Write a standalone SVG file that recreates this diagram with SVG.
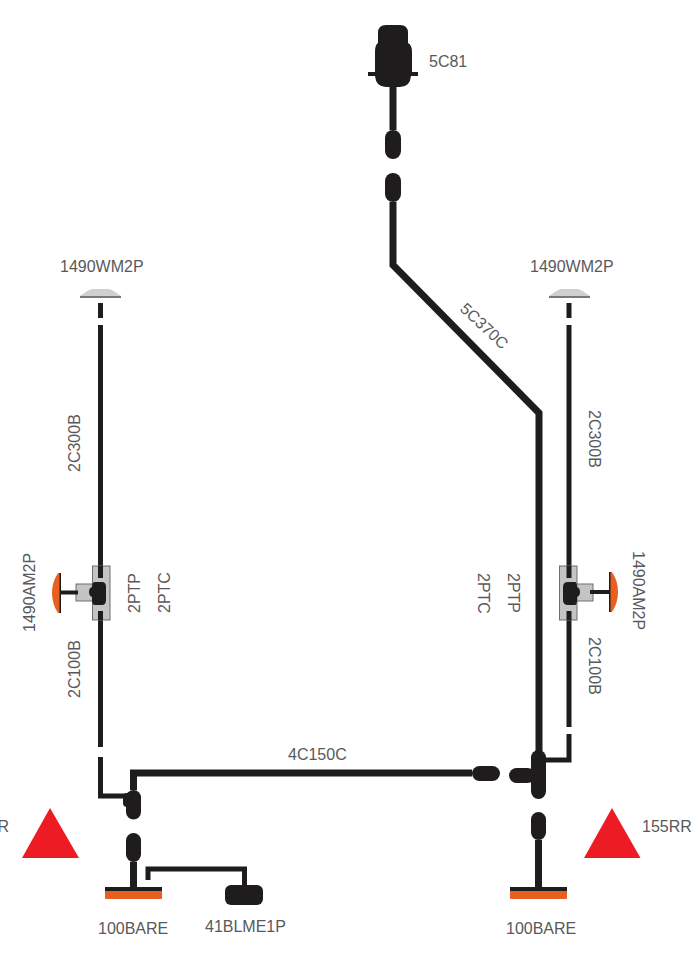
<svg xmlns="http://www.w3.org/2000/svg" width="700" height="955" viewBox="0 0 700 955">
<style>
text{font-family:"Liberation Sans",Arial,sans-serif;font-size:16px;fill:#58595b}
.w{fill:none;stroke:#1f1c1d;stroke-width:5}
.m{fill:none;stroke:#1f1c1d;stroke-width:7}
.b{fill:#1f1c1d}
.g{fill:#c4c4c4;stroke:#6d6e71;stroke-width:1}
.o{fill:#e8601f}
.r{fill:#ed1c24}
.c{fill:#d0d0d0}
</style>
<rect width="700" height="955" fill="#fff"/>
<g id="connectors">
<path class="m" d="M393 87V130M393 202V265L539 413V760"/>
<path class="m" d="M133.500 790V773H472"/>
<path class="m" d="M133.500 862V888M538.500 840V888"/>
<path class="w" d="M100.500 303V318M100.500 325V578M100.500 611V747M100.500 757V796H128"/>
<path class="w" d="M569 303V318M569 325V578M569 611V727M569 734V760H545"/>
<path class="w" d="M148 880V869H244.500V886"/>
</g>
<g id="node-5c81">
<path class="b" d="M378 33Q378 25 386 25H400Q408 25 408 33V43Q412 45 412 52V72H418V76H411Q410 87 400 87H386Q376 87 375 76H368V72H375V52Q375 45 378 43Z"/>
<rect class="b" x="385" y="130" width="16" height="29" rx="8"/>
<rect class="b" x="385" y="173" width="16" height="29" rx="8"/>
<text x="429" y="67">5C81</text>
</g>
<g id="node-cap-left">
<path class="c" d="M80 296Q88 290 92 289H109Q113 290 121 296Z"/><rect x="80" y="296" width="41" height="2" fill="#77787b"/>
<text x="60" y="272">1490WM2P</text>
</g>
<g id="node-cap-right">
<path class="c" d="M549 296Q557 290 561 289H578Q582 290 590 296Z"/><rect x="549" y="296" width="41" height="2" fill="#77787b"/>
<text x="530" y="272">1490WM2P</text>
</g>
<g id="node-lamp-left">
<rect class="g" x="92.500" y="566" width="17.500" height="54"/>
<rect class="g" x="76" y="584" width="16.500" height="17"/>
<path class="w" style="stroke-width:4" d="M61 592.500H78"/>
<path class="w" d="M100.500 566V578M100.500 611V620"/>
<path class="b" d="M95 582H102Q106 582 106 587V600Q106 605 102 605H95Q92 605 92 600V597Q89 596 89 592Q89 588 92 587Q92 582 95 582Z"/>
<path class="o" d="M61 573V613H58Q52 604 52 593Q52 582 58 573Z"/>
<rect class="b" x="59.500" y="573" width="1.500" height="40"/>
<text transform="translate(35 632) rotate(-90)">1490AM2P</text>
<text transform="translate(140 613) rotate(-90)">2PTP</text>
<text transform="translate(170 613) rotate(-90)">2PTC</text>
</g>
<g id="node-lamp-right">
<rect class="g" x="559.500" y="566" width="17.500" height="54"/>
<rect class="g" x="577" y="584" width="16" height="17"/>
<path class="w" style="stroke-width:4" d="M590 592H609"/>
<path class="w" d="M569 566V578M569 611V620"/>
<path class="b" d="M575 582H568Q563 582 563 587V600Q563 605 568 605H575Q577 605 577 600V597Q580 596 580 592Q580 588 577 587Q577 582 575 582Z"/>
<path class="o" d="M609 572V612H612Q618 603 618 592Q618 581 612 572Z"/>
<rect class="b" x="609" y="572" width="1.500" height="40"/>
<text transform="translate(633 551) rotate(90)">1490AM2P</text>
<text transform="translate(508 573) rotate(90)">2PTP</text>
<text transform="translate(478 573) rotate(90)">2PTC</text>
</g>
<g id="node-junction-left">
<rect class="b" x="126" y="790" width="15" height="29.500" rx="7.500"/>
<rect class="b" x="123" y="793" width="10" height="14" rx="4"/>
<rect class="b" x="126" y="833" width="15" height="29" rx="7.500"/>
</g>
<g id="node-junction-right">
<rect class="b" x="531" y="750" width="15" height="49" rx="7.500"/>
<rect class="b" x="509" y="768" width="26" height="15" rx="7.500"/>
<rect class="b" x="472" y="766" width="28" height="15" rx="7.500"/>
<rect class="b" x="531" y="812" width="15" height="28" rx="7.500"/>
</g>
<g id="node-bare-left">
<rect class="o" x="105" y="888" width="57" height="11" rx="1"/><rect class="b" x="105" y="887" width="57" height="4"/>
<text x="98" y="934">100BARE</text>
</g>
<g id="node-bare-right">
<rect class="o" x="510" y="888" width="57" height="11" rx="1"/><rect class="b" x="510" y="887" width="57" height="4"/>
<text x="506" y="934">100BARE</text>
</g>
<g id="node-41blme1p">
<rect class="b" x="225" y="885" width="38" height="20" rx="6"/>
<text x="205" y="932">41BLME1P</text>
</g>
<g id="node-triangle-left">
<path class="r" d="M50 808L79 858H22Z"/>
<text x="9" y="832" text-anchor="end">155RR</text>
</g>
<g id="node-triangle-right">
<path class="r" d="M612 808L640.500 858H584Z"/>
<text x="642" y="832">155RR</text>
</g>
<g id="wire-labels">
<text transform="translate(80 472) rotate(-90)">2C300B</text>
<text transform="translate(80 698) rotate(-90)">2C100B</text>
<text transform="translate(589 410) rotate(90)">2C300B</text>
<text transform="translate(589 637) rotate(90)">2C100B</text>
<text transform="translate(459 310) rotate(43)">5C370C</text>
<text x="288" y="760">4C150C</text>
</g>
</svg>
